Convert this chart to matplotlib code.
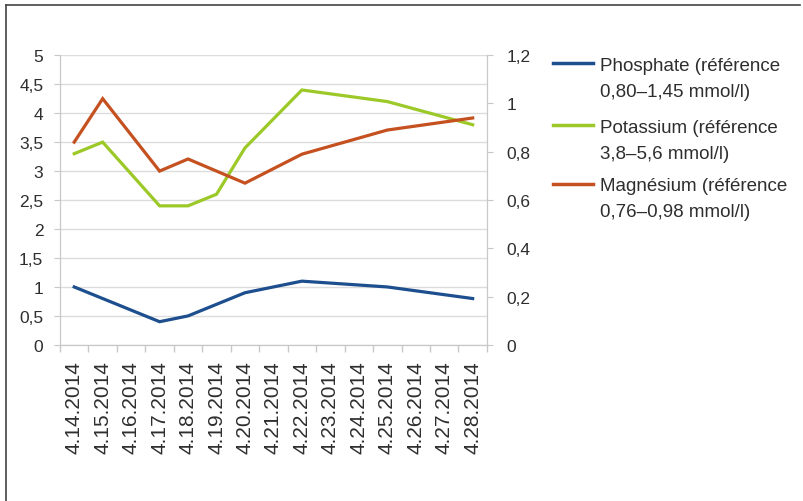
import numpy as np
import matplotlib.pyplot as plt
from matplotlib.lines import Line2D
from matplotlib.ticker import FixedLocator

plt.rcParams['font.family'] = ['Liberation Sans', 'DejaVu Sans']

# Dates of the lab series (one category per day)
dates = ['4.14.2014', '4.15.2014', '4.16.2014', '4.17.2014', '4.18.2014',
         '4.19.2014', '4.20.2014', '4.21.2014', '4.22.2014', '4.23.2014',
         '4.24.2014', '4.25.2014', '4.26.2014', '4.27.2014', '4.28.2014']

# Measurements (None = no sample that day)
phosphate = [1.0, None, None, 0.4, 0.5, None, 0.9, None, 1.1, None, None, 1.0, None, None, 0.8]
potassium = [3.3, 3.5, None, 2.4, 2.4, 2.6, 3.4, None, 4.4, None, None, 4.2, None, None, 3.8]
magnesium = [0.84, 1.02, None, 0.72, 0.77, None, 0.67, None, 0.79, None, None, 0.89, None, None, 0.94]

labels = ['Phosphate (référence\n0,80–1,45 mmol/l)',
          'Potassium (référence\n3,8–5,6 mmol/l)',
          'Magnésium (référence\n0,76–0,98 mmol/l)']
colors = ['#1d4f8f', '#9cc928', '#c4511f']

text_col = '#2e2e2e'
grid_col = '#dcdcdc'


def valid(values):
    idx = [i for i, v in enumerate(values) if v is not None]
    return idx, [values[i] for i in idx]


fig = plt.figure(figsize=(8.04, 5.02), dpi=100)
ax = fig.add_axes([0.0746, 0.311, 0.531, 0.577])
ax2 = ax.twinx()

x, y = valid(phosphate)
ax.plot(x, y, color=colors[0], lw=2.3, solid_joinstyle='miter', zorder=3)
x, y = valid(potassium)
ax.plot(x, y, color=colors[1], lw=2.3, solid_joinstyle='miter', zorder=3)
x, y = valid(magnesium)
ax2.plot(x, y, color=colors[2], lw=2.3, solid_joinstyle='miter', zorder=3)

ax.set_xlim(-0.5, len(dates) - 0.5)
ax.set_ylim(0, 5)
ax2.set_ylim(0, 1.2)

ax.set_yticks(np.arange(0, 5.01, 0.5))
ax.set_yticklabels([f'{v:g}'.replace('.', ',') for v in np.arange(0, 5.01, 0.5)])
ax2.set_yticks(np.arange(0, 1.21, 0.2))
ax2.set_yticklabels([f'{v:.1f}'.replace('.', ',').replace(',0', '') if v != 0 else '0'
                     for v in np.arange(0, 1.21, 0.2)])

ax.set_xticks(range(len(dates)))
ax.set_xticklabels(dates, rotation=90)
ax.xaxis.set_minor_locator(FixedLocator(np.arange(-0.5, len(dates), 1)))
ax.tick_params(axis='x', which='major', length=0, pad=11, labelsize=15, labelcolor=text_col)
ax.tick_params(axis='x', which='minor', length=5, color='#c8c8c8', width=1)
ax.tick_params(axis='y', length=4, color='#c8c8c8', labelsize=12.5, labelcolor=text_col, pad=8)
ax2.tick_params(axis='y', length=4, color='#c8c8c8', labelsize=12.5, labelcolor=text_col, pad=10)

ax.grid(axis='y', color=grid_col, lw=1)
ax.set_axisbelow(True)
for a in (ax, ax2):
    a.spines['top'].set_visible(False)
    for s in ('left', 'right', 'bottom'):
        a.spines[s].set_color('#c8c8c8')

# Legend drawn next to the plot, swatch level with the first text line
leg_y = [0.868, 0.745, 0.6275]
line_gap = 26 / 502
for lab, col, yy in zip(labels, colors, leg_y):
    fig.add_artist(Line2D([0.688, 0.737], [yy + 0.004, yy + 0.004], color=col, lw=2.5))
    for k, part in enumerate(lab.split('\n')):
        fig.text(0.746, yy - k * line_gap, part, ha='left', va='center',
                 fontsize=13.5, color=text_col)

# Frame lines on the top and left edges
fig.add_artist(Line2D([0.0075, 0.995], [0.988, 0.988], color='#444444', lw=1.2))
fig.add_artist(Line2D([0.0075, 0.0075], [0.0, 0.988], color='#444444', lw=1.2))

fig.savefig('out.png', dpi=100)
